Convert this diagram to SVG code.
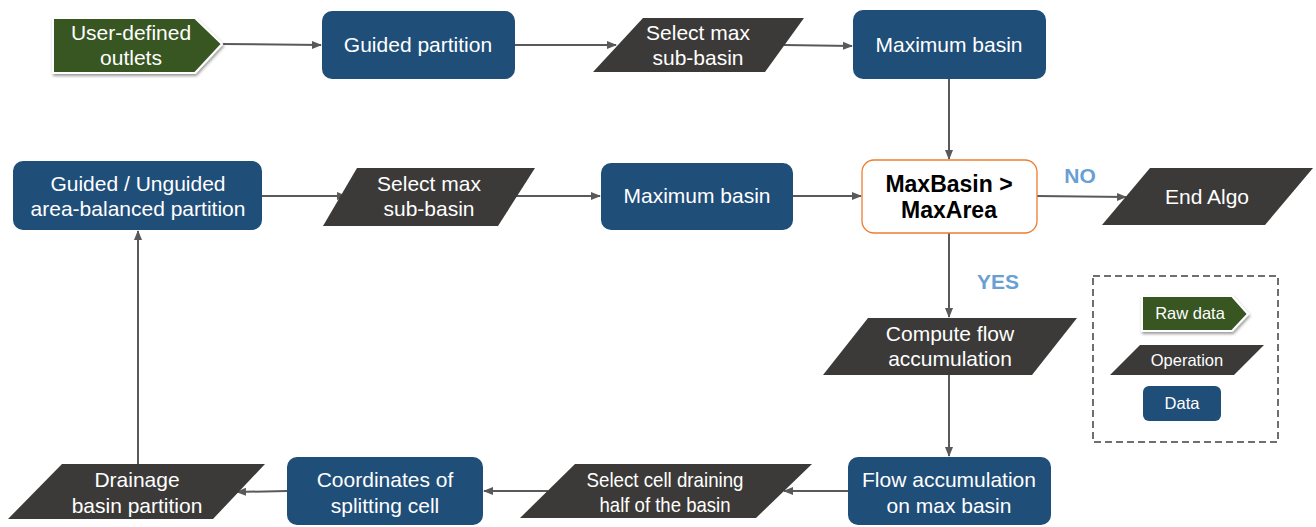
<svg xmlns="http://www.w3.org/2000/svg" width="1316" height="527" viewBox="0 0 1316 527">
<style>
text{font-family:"Liberation Sans",Arial,sans-serif;text-anchor:middle}
.t{fill:#fff;font-size:21px}
.lt{fill:#fff;font-size:16.5px}
.data{fill:#1f4e79}
.op{fill:#3b3a38}
.raw{fill:#385723;stroke:#fff;stroke-width:2}
.dec{fill:#fff;stroke:#ed7d31;stroke-width:1.3}
.bt{fill:#000;font-size:23px;font-weight:bold}
.lab{fill:#6a9fd3;font-size:21px;font-weight:bold}
.c{stroke:#595959;stroke-width:2;fill:none;marker-end:url(#ah)}
</style>
<defs>
<marker id="ah" viewBox="0 0 10 10" refX="9" refY="5" markerWidth="5" markerHeight="5" orient="auto" markerUnits="strokeWidth">
<path d="M0,1 L10,5 L0,9 Z" fill="#595959"/>
</marker>
<filter id="sh" x="-20%" y="-20%" width="140%" height="150%">
<feDropShadow dx="1" dy="2" stdDeviation="1.5" flood-color="#000" flood-opacity="0.4"/>
</filter>
</defs>
<rect width="1316" height="527" fill="#fff"/>
<g id="connectors">
<line class="c" x1="222" y1="44" x2="321" y2="45"/>
<line class="c" x1="515" y1="45" x2="616" y2="45"/>
<line class="c" x1="784" y1="45" x2="852" y2="46"/>
<line class="c" x1="949" y1="79" x2="949" y2="159"/>
<line class="c" x1="262" y1="196" x2="346" y2="196"/>
<line class="c" x1="515" y1="196" x2="600" y2="196"/>
<line class="c" x1="793" y1="196" x2="861" y2="196"/>
<line class="c" x1="1037" y1="196" x2="1126" y2="197"/>
<line class="c" x1="949" y1="233" x2="949" y2="317"/>
<line class="c" x1="949" y1="375" x2="949" y2="456"/>
<line class="c" x1="848" y1="491" x2="784" y2="491"/>
<line class="c" x1="548" y1="491" x2="484" y2="491"/>
<line class="c" x1="287" y1="491" x2="237" y2="492"/>
<line class="c" x1="138" y1="464" x2="138" y2="231"/>
</g>
<g id="n_outlets">
<path class="raw" filter="url(#sh)" d="M53,18 H195 L222,44 L195,73 H53 Z"/>
<text class="t" x="131" y="40">User-defined</text>
<text class="t" x="131" y="65">outlets</text>
</g>
<g id="n_guided">
<rect class="data" x="322" y="11" width="193" height="68" rx="10"/>
<text class="t" x="418" y="52">Guided partition</text>
</g>
<g id="n_select1">
<path class="op" d="M643,18 H804 L765,72 H593 Z"/>
<text class="t" x="698" y="40">Select max</text>
<text class="t" x="698" y="65">sub-basin</text>
</g>
<g id="n_maxbasin1">
<rect class="data" x="853" y="10" width="193" height="69" rx="10"/>
<text class="t" x="949" y="52">Maximum basin</text>
</g>
<g id="n_balanced">
<rect class="data" x="13" y="161" width="249" height="69" rx="10"/>
<text class="t" x="138" y="191">Guided / Unguided</text>
<text class="t" x="138" y="216">area-balanced partition</text>
</g>
<g id="n_select2">
<path class="op" d="M357,168 H535 L498,226 H323 Z"/>
<text class="t" x="429" y="191">Select max</text>
<text class="t" x="429" y="216">sub-basin</text>
</g>
<g id="n_maxbasin2">
<rect class="data" x="601" y="163" width="192" height="67" rx="10"/>
<text class="t" x="697" y="203">Maximum basin</text>
</g>
<g id="n_decision">
<rect class="dec" x="862" y="160" width="175" height="73" rx="12"/>
<text class="bt" x="949" y="192">MaxBasin &gt;</text>
<text class="bt" x="949" y="218">MaxArea</text>
</g>
<g id="n_end">
<path class="op" d="M1150,168 H1313 L1265,225 H1102 Z"/>
<text class="t" x="1207" y="204">End Algo</text>
</g>
<text class="lab" x="1080" y="183">NO</text>
<text class="lab" x="998" y="289">YES</text>
<g id="n_compute">
<path class="op" d="M868,318 H1077 L1032,375 H823 Z"/>
<text class="t" x="950" y="341">Compute flow</text>
<text class="t" x="950" y="366">accumulation</text>
</g>
<g id="n_flowacc">
<rect class="data" x="848" y="457" width="203" height="68" rx="10"/>
<text class="t" x="949" y="487">Flow accumulation</text>
<text class="t" x="949" y="513">on max basin</text>
</g>
<g id="n_selectcell">
<path class="op" d="M575,464 H812 L756,518 H520 Z"/>
<text class="t" x="665" y="487" textLength="157" lengthAdjust="spacingAndGlyphs">Select cell draining</text>
<text class="t" x="665" y="512" textLength="131" lengthAdjust="spacingAndGlyphs">half of the basin</text>
</g>
<g id="n_coords">
<rect class="data" x="287" y="457" width="196" height="68" rx="10"/>
<text class="t" x="385" y="487">Coordinates of</text>
<text class="t" x="385" y="513">splitting cell</text>
</g>
<g id="n_drainage">
<path class="op" d="M62,464 H265 L213,519 H8 Z"/>
<text class="t" x="137" y="487">Drainage</text>
<text class="t" x="137" y="513">basin partition</text>
</g>
<g id="legend">
<rect x="1093" y="276" width="185" height="166" fill="none" stroke="#404040" stroke-width="1.5" stroke-dasharray="7,4"/>
<path class="raw" filter="url(#sh)" d="M1142,296 H1232 L1248,314 L1232,331 H1142 Z"/>
<text class="lt" x="1190" y="319">Raw data</text>
<path class="op" d="M1140,345 H1264 L1234,375 H1110 Z"/>
<text class="lt" x="1187" y="366">Operation</text>
<rect class="data" x="1143" y="386" width="78" height="35" rx="6"/>
<text class="lt" x="1182" y="409">Data</text>
</g>
</svg>
